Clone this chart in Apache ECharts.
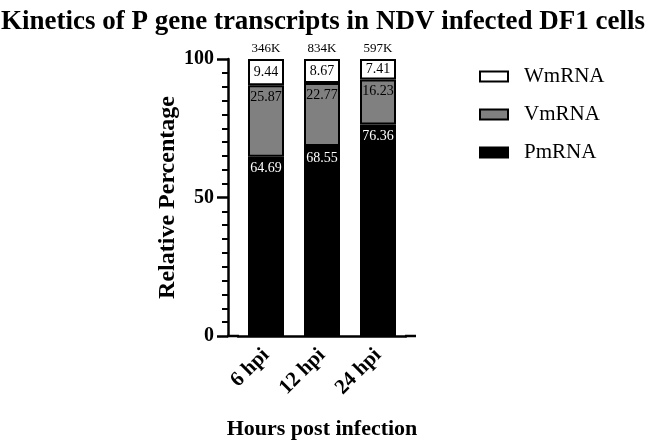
<!DOCTYPE html>
<html>
<head>
<meta charset="utf-8">
<script src="https://cdn.jsdelivr.net/npm/echarts@6/dist/echarts.min.js"></script>
<style>
html, body { margin: 0; padding: 0; background: #fff; }
#chart { width: 646px; height: 444px; }
</style>
</head>
<body>
<div id="chart"></div>
<script>
// 数据
var categories = ['6 hpi', '12 hpi', '24 hpi'];
var pmRNA = [64.69, 68.55, 76.36];
var vmRNA = [25.87, 22.77, 16.23];
var wmRNA = [9.44, 8.67, 7.41];
var totals = ['346K', '834K', '597K'];
var yTicks = [0, 50, 100];

var serif = '"Liberation Serif", "Times New Roman", serif';

var myChart = echarts.init(document.getElementById('chart'));

function segLabel(color, pos, dist) {
	return {
		show: true,
		position: pos,
		distance: dist,
		color: color,
		fontFamily: serif,
		fontSize: 14,
		formatter: function(p) { return p.value.toFixed(2); }
	};
}

var option = {
	backgroundColor: '#fff',
	animation: false,
	title: {
		text: 'Kinetics of P gene transcripts in NDV infected DF1 cells',
		left: 'center',
		top: 4,
		textStyle: {
			fontFamily: serif,
			fontWeight: 'bold',
			fontSize: 27,
			color: '#000'
		}
	},
	legend: {
		orient: 'vertical',
		left: 474,
		top: 61,
		icon: 'rect',
		itemWidth: 28,
		itemHeight: 10,
		itemGap: 17,
		data: ['WmRNA', 'VmRNA', 'PmRNA'],
		textStyle: {
			fontFamily: serif,
			fontSize: 21,
			color: '#000',
			padding: [0, 0, 0, 11]
		}
	},
	grid: {
		left: 238,
		top: 59,
		width: 168,
		height: 277,
		outerBoundsMode: 'none',
		containLabel: false
	},
	xAxis: {
		type: 'category',
		data: categories,
		name: 'Hours post infection',
		nameLocation: 'middle',
		nameGap: 82,
		nameTextStyle: {
			fontFamily: serif,
			fontWeight: 'bold',
			fontSize: 22,
			color: '#000'
		},
		axisLine: { lineStyle: { color: '#000', width: 2.5 } },
		axisTick: { alignWithLabel: true, length: 10, lineStyle: { color: '#000', width: 2.5 } },
		axisLabel: {
			rotate: 45,
			margin: 16,
			fontFamily: serif,
			fontWeight: 'bold',
			fontSize: 21,
			color: '#000'
		}
	},
	yAxis: {
		type: 'value',
		min: 0,
		max: 100,
		interval: 50,
		offset: 10,
		name: 'Relative Percentage',
		nameLocation: 'middle',
		nameGap: 48,
		nameTextStyle: {
			fontFamily: serif,
			fontWeight: 'bold',
			fontSize: 24,
			color: '#000'
		},
		splitLine: { show: false },
		axisLine: { show: true, lineStyle: { color: '#000', width: 2.5 } },
		axisTick: { show: true, length: 11, lineStyle: { color: '#000', width: 2.5 } },
		minorTick: { show: true, splitNumber: 10, length: 6, lineStyle: { color: '#000', width: 2 } },
		axisLabel: {
			margin: 14,
			fontFamily: serif,
			fontWeight: 'bold',
			fontSize: 20,
			color: '#000',
			customValues: yTicks
		}
	},
	graphic: [
		{ type: 'line', shape: { x1: 227, y1: 336, x2: 239, y2: 336 }, style: { stroke: '#000', lineWidth: 2.5 } },
		{ type: 'line', shape: { x1: 405, y1: 336, x2: 416, y2: 336 }, style: { stroke: '#000', lineWidth: 2.5 } }
	],
	series: [{
		name: 'PmRNA',
		type: 'bar',
		stack: 'all',
		barWidth: 36,
		data: pmRNA,
		itemStyle: { color: '#000', borderColor: '#000', borderWidth: 2 },
		label: segLabel('#fff', 'insideTop', 5)
	}, {
		name: 'VmRNA',
		type: 'bar',
		stack: 'all',
		data: vmRNA,
		itemStyle: { color: '#808080', borderColor: '#000', borderWidth: 2 },
		label: segLabel('#000', 'insideTop', 5)
	}, {
		name: 'WmRNA',
		type: 'bar',
		stack: 'all',
		data: wmRNA,
		itemStyle: { color: '#fff', borderColor: '#000', borderWidth: 2 },
		label: segLabel('#000', 'inside', 0)
	}, {
		name: 'total',
		type: 'bar',
		stack: 'all',
		data: [0, 0, 0],
		itemStyle: { color: 'transparent', borderWidth: 0 },
		label: {
			show: true,
			position: 'top',
			distance: 4,
			color: '#000',
			fontFamily: serif,
			fontSize: 13,
			formatter: function(p) { return totals[p.dataIndex]; }
		}
	}]
};
myChart.setOption(option);
</script>
</body>
</html>
